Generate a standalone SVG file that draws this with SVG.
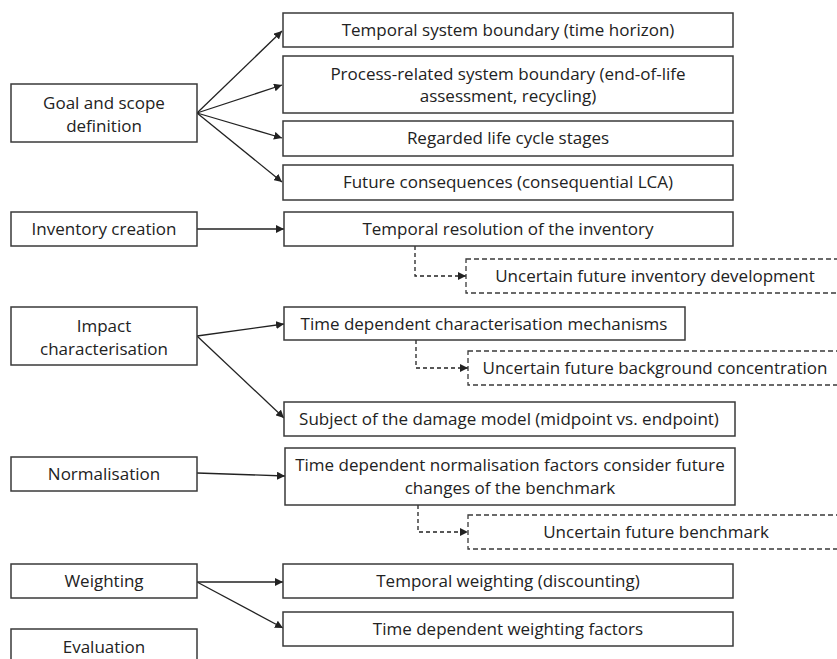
<svg xmlns="http://www.w3.org/2000/svg" width="837" height="659" viewBox="0 0 837 659">
<style>
.box{fill:#fff;stroke:#3a3a3a;stroke-width:1.5}
.dbox{fill:#fff;stroke:#3a3a3a;stroke-width:1.3;stroke-dasharray:5,3}
.t{font-family:"Open Sans","Liberation Sans",Arial,sans-serif;font-size:17px;fill:#222;text-anchor:middle}
.c{fill:none;stroke:#222;stroke-width:1.3}
.dc{fill:none;stroke:#222;stroke-width:1.3;stroke-dasharray:4,3}
</style>
<defs>
<marker id="ah" viewBox="0 0 10 10" refX="10" refY="5" markerWidth="8" markerHeight="8" markerUnits="userSpaceOnUse" orient="auto"><path d="M0,0 L10,5 L0,10 z" fill="#222"/></marker>
</defs>
<rect width="837" height="659" fill="#fff"/>
<g id="connectors">
<line class="c" x1="197" y1="113" x2="282" y2="31" marker-end="url(#ah)"/>
<line class="c" x1="197" y1="113" x2="282" y2="85" marker-end="url(#ah)"/>
<line class="c" x1="197" y1="113" x2="282" y2="138" marker-end="url(#ah)"/>
<line class="c" x1="197" y1="113" x2="282" y2="182" marker-end="url(#ah)"/>
<line class="c" x1="197" y1="229" x2="284" y2="229" marker-end="url(#ah)"/>
<line class="c" x1="197" y1="336" x2="284" y2="324" marker-end="url(#ah)"/>
<line class="c" x1="197" y1="336" x2="284" y2="418" marker-end="url(#ah)"/>
<line class="c" x1="197" y1="473" x2="285" y2="476" marker-end="url(#ah)"/>
<line class="c" x1="197" y1="582" x2="283" y2="582" marker-end="url(#ah)"/>
<line class="c" x1="197" y1="582" x2="283" y2="628" marker-end="url(#ah)"/>
<polyline class="dc" points="415,246 415,276 466,276" marker-end="url(#ah)"/>
<polyline class="dc" points="416,340 416,368 468,368" marker-end="url(#ah)"/>
<polyline class="dc" points="418,505 418,532 468,532" marker-end="url(#ah)"/>
</g>
<g id="goal"><rect class="box" x="11" y="84" width="186" height="58"/><text class="t" x="104" y="109">Goal and scope</text><text class="t" x="104" y="132">definition</text></g>
<g id="inventory"><rect class="box" x="11" y="212" width="186" height="34"/><text class="t" x="104" y="235">Inventory creation</text></g>
<g id="impact"><rect class="box" x="11" y="307" width="186" height="58"/><text class="t" x="104" y="332">Impact</text><text class="t" x="104" y="355">characterisation</text></g>
<g id="normalisation"><rect class="box" x="11" y="457" width="186" height="34"/><text class="t" x="104" y="480">Normalisation</text></g>
<g id="weighting"><rect class="box" x="11" y="564" width="186" height="34"/><text class="t" x="104" y="587">Weighting</text></g>
<g id="evaluation"><rect class="box" x="11" y="629" width="186" height="40"/><text class="t" x="104" y="653">Evaluation</text></g>
<g id="temporal-boundary"><rect class="box" x="283" y="13" width="450" height="34"/><text class="t" x="508" y="36">Temporal system boundary (time horizon)</text></g>
<g id="process-boundary"><rect class="box" x="283" y="56" width="450" height="57"/><text class="t" x="508" y="80">Process-related system boundary (end-of-life</text><text class="t" x="508" y="102">assessment, recycling)</text></g>
<g id="stages"><rect class="box" x="283" y="121" width="450" height="35"/><text class="t" x="508" y="144">Regarded life cycle stages</text></g>
<g id="consequences"><rect class="box" x="283" y="165" width="450" height="35"/><text class="t" x="508" y="188">Future consequences (consequential LCA)</text></g>
<g id="resolution"><rect class="box" x="284" y="212" width="449" height="34"/><text class="t" x="508" y="235">Temporal resolution of the inventory</text></g>
<g id="uncertain-inventory"><rect class="dbox" x="466" y="259" width="380" height="34"/><text class="t" x="655" y="282">Uncertain future inventory development</text></g>
<g id="char-mech"><rect class="box" x="284" y="307" width="401" height="33"/><text class="t" x="484" y="330">Time dependent characterisation mechanisms</text></g>
<g id="uncertain-background"><rect class="dbox" x="468" y="351" width="380" height="34"/><text class="t" x="655" y="374">Uncertain future background concentration</text></g>
<g id="damage-model"><rect class="box" x="284" y="402" width="451" height="34"/><text class="t" x="509" y="425">Subject of the damage model (midpoint vs. endpoint)</text></g>
<g id="norm-factors"><rect class="box" x="285" y="448" width="450" height="57"/><text class="t" x="510" y="471">Time dependent normalisation factors consider future</text><text class="t" x="510" y="494">changes of the benchmark</text></g>
<g id="uncertain-benchmark"><rect class="dbox" x="468" y="515" width="380" height="34"/><text class="t" x="656" y="538">Uncertain future benchmark</text></g>
<g id="temporal-weighting"><rect class="box" x="283" y="564" width="450" height="34"/><text class="t" x="508" y="587">Temporal weighting (discounting)</text></g>
<g id="weighting-factors"><rect class="box" x="283" y="612" width="450" height="34"/><text class="t" x="508" y="635">Time dependent weighting factors</text></g>
</svg>
